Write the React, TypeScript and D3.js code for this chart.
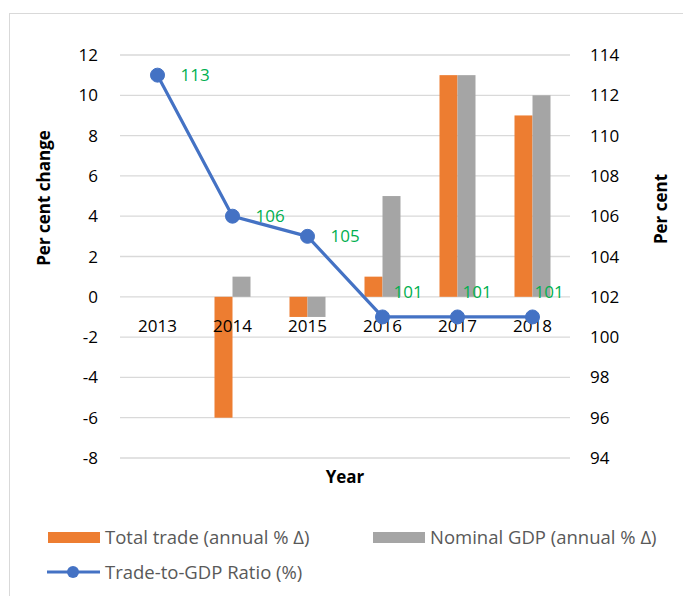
import React from 'react';
import * as d3 from 'd3';

const years = ['2013', '2014', '2015', '2016', '2017', '2018'];
const totalTrade = [0, -6, -1, 1, 11, 9];
const nominalGDP = [0, 1, -1, 5, 11, 10];
const tradeToGDP = [113, 106, 105, 101, 101, 101];
const leftTicks = [-8, -6, -4, -2, 0, 2, 4, 6, 8, 10, 12];
const rightTicks = [94, 96, 98, 100, 102, 104, 106, 108, 110, 112, 114];

// label nudges (Excel moved a few by hand)
const labelDx = [23, 23, 23, 11, 5, 2];
const labelDy = [0, 0, 0, -25, -25, -25];

const W = 683;
const H = 596;
const FONT = "'Open Sans', sans-serif";

const App = () => {
  const x0 = d3.scaleBand().domain(years).range([120, 570]);
  const x1 = d3.scaleBand().domain(['trade', 'gdp']).range([19.5, 55.5]);
  const yL = d3.scaleLinear().domain([-8, 12]).range([458, 55]);
  const yR = d3.scaleLinear().domain([94, 114]).range([458, 55]);
  const cx = (y: string) => (x0(y) as number) + x0.bandwidth() / 2;

  const line = d3
    .line<number>()
    .x((_, i) => cx(years[i]))
    .y((d) => yR(d));

  const bar = (vals: number[], key: string, color: string) =>
    vals.map((v, i) => (
      <rect
        key={key + i}
        x={(x0(years[i]) as number) + (x1(key) as number)}
        width={x1.bandwidth()}
        y={Math.min(yL(v), yL(0))}
        height={Math.abs(yL(v) - yL(0))}
        fill={color}
      />
    ));

  return (
    <svg
      width={W}
      height={H}
      style={{ position: 'absolute', left: 0, top: 0, background: '#fff' }}
      fontFamily={FONT}
    >
      <rect x={9.5} y={13.5} width={W} height={H} fill="#fff" stroke="#D9D9D9" />

      {/* gridlines */}
      {leftTicks.map((t) => (
        <line key={'g' + t} x1={120} x2={570} y1={yL(t)} y2={yL(t)} stroke="#D9D9D9" strokeWidth={1.3} />
      ))}

      {/* left ticks */}
      {leftTicks.map((t) => (
        <text key={'l' + t} x={98} y={yL(t) + 6} textAnchor="end" fontSize={17} fill="#000">
          {t}
        </text>
      ))}
      {/* right ticks */}
      {rightTicks.map((t) => (
        <text key={'r' + t} x={590} y={yR(t) + 6} textAnchor="start" fontSize={17} fill="#000">
          {t}
        </text>
      ))}

      {bar(totalTrade, 'trade', '#ED7D31')}
      {bar(nominalGDP, 'gdp', '#A5A5A5')}

      {/* category labels */}
      {years.map((y) => (
        <text key={'c' + y} x={cx(y)} y={332} textAnchor="middle" fontSize={17} fill="#000">
          {y}
        </text>
      ))}

      <path d={line(tradeToGDP) as string} fill="none" stroke="#4472C4" strokeWidth={3.2} strokeLinejoin="round" />
      {tradeToGDP.map((v, i) => (
        <circle key={'m' + i} cx={cx(years[i])} cy={yR(v)} r={7} fill="#4472C4" stroke="#4472C4" />
      ))}
      {tradeToGDP.map((v, i) => (
        <text
          key={'d' + i}
          x={cx(years[i]) + labelDx[i]}
          y={yR(v) + labelDy[i] + 6}
          fontSize={17}
          fill="#00B050"
        >
          {v}
        </text>
      ))}

      {/* axis titles */}
      <text x={345} y={483} textAnchor="middle" fontSize={17} fontWeight="bold" fill="#000">
        Year
      </text>
      <text
        transform="translate(50,198) rotate(-90)"
        textAnchor="middle"
        fontSize={17}
        fontWeight="bold"
        fill="#000"
      >
        Per cent change
      </text>
      <text
        transform="translate(667,209) rotate(-90)"
        textAnchor="middle"
        fontSize={17}
        fontWeight="bold"
        fill="#000"
      >
        Per cent
      </text>

      {/* legend */}
      <rect x={48} y={532} width={52} height={11} fill="#ED7D31" />
      <text x={105} y={544} fontSize={18.5} fill="#595959">
        Total trade (annual % Δ)
      </text>
      <rect x={373} y={532} width={52} height={11} fill="#A5A5A5" />
      <text x={430} y={544} fontSize={18.5} fill="#595959">
        Nominal GDP (annual % Δ)
      </text>
      <line x1={47} x2={100} y1={572} y2={572} stroke="#4472C4" strokeWidth={3.2} />
      <circle cx={73} cy={572} r={6} fill="#4472C4" />
      <text x={105} y={579} fontSize={18.5} fill="#595959">
        Trade-to-GDP Ratio (%)
      </text>
    </svg>
  );
};

export default App;
